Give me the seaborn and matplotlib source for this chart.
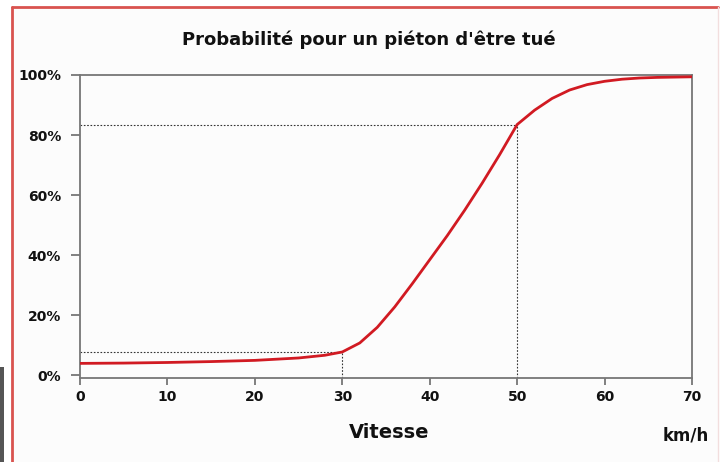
"""Pedestrian fatality probability vs impact speed."""

import matplotlib
matplotlib.use("Agg")
import matplotlib.pyplot as plt
import numpy as np
import pandas as pd
import seaborn as sns
from matplotlib.patches import Rectangle

# values
speed_kmh = [0, 5, 10, 15, 20, 25, 28, 30, 32, 34, 36, 38, 40, 42, 44, 46, 48, 50,
             52, 54, 56, 58, 60, 62, 64, 66, 68, 70]
prob_pct = [4.0, 4.1, 4.3, 4.6, 5.0, 5.8, 6.7, 7.8, 10.8, 16.0, 22.8, 30.5, 38.5, 46.5,
            55.0, 64.0, 73.5, 83.5, 88.3, 92.2, 95.0, 96.8, 97.9, 98.6, 99.0, 99.2, 99.3, 99.4]
marked_speeds = [30, 50]
x_ticks = [0, 10, 20, 30, 40, 50, 60, 70]
y_ticks = [0, 20, 40, 60, 80, 100]
y_labels = ["0%", "20%", "40%", "60%", "80%", "100%"]

TITLE = "Probabilité pour un piéton d'être tué"
XLABEL = "Vitesse"
UNIT = "km/h"

sns.set_theme(style="white")
plt.rcParams["font.family"] = ["DejaVu Sans"]

df = pd.DataFrame({"speed": speed_kmh, "prob": prob_pct})

W, H = 722, 462
fig = plt.figure(figsize=(W / 100, H / 100), dpi=100)
fig.patch.set_facecolor("white")

# light panel with red frame, like the source slide
fig.patches.append(Rectangle((12 / W, 0), (718 - 12) / W, (H - 7) / H, transform=fig.transFigure,
                             facecolor="#fcfcfc", edgecolor="none", zorder=-5))
fig.add_artist(plt.Line2D([12 / W, 12 / W], [0, (H - 7) / H], transform=fig.transFigure, color="#d9534f", lw=2, zorder=-4))
fig.add_artist(plt.Line2D([12 / W, 718 / W], [(H - 7) / H, (H - 7) / H], transform=fig.transFigure, color="#d9534f", lw=2, zorder=-4))
fig.add_artist(plt.Line2D([718 / W, 718 / W], [0, (H - 7) / H], transform=fig.transFigure, color="#f2dede", lw=1, zorder=-4))
fig.patches.append(Rectangle((0, 0), 4 / W, (H - 367) / H, transform=fig.transFigure,
                             facecolor="#555555", edgecolor="none", zorder=-4))

ax = fig.add_axes([80 / W, (H - 377.5) / H, 612 / W, 302.5 / H])
ax.set_facecolor("#fcfcfc")

sns.lineplot(data=df, x="speed", y="prob", color="#d11a22", lw=2.0, ax=ax, zorder=3)

# dotted guides at 30 and 50 km/h
for s in marked_speeds:
    p = prob_pct[speed_kmh.index(s)]
    ax.plot([0, s], [p, p], ls=(0, (1.5, 1.5)), color="#333333", lw=0.8, zorder=2)
    ax.plot([s, s], [-0.7, p], ls=(0, (1.5, 1.5)), color="#333333", lw=0.8, zorder=2)

ax.set_xlim(0, 70)
ax.set_ylim(-0.7, 100)
ax.set_xticks(x_ticks)
ax.set_xticklabels([str(t) for t in x_ticks], fontsize=10, fontweight="bold")
ax.set_yticks(y_ticks)
ax.set_yticklabels(y_labels, fontsize=10, fontweight="bold")
ax.tick_params(axis="x", bottom=True, direction="out", length=5, width=1.3, color="#777777", pad=4, labelcolor="#111111")
ax.tick_params(axis="y", left=True, direction="out", length=6.5, width=1.3, color="#777777", pad=7, labelcolor="#111111")
for side in ["left", "right", "top", "bottom"]:
    ax.spines[side].set_visible(True)
    ax.spines[side].set_color("#777777")
    ax.spines[side].set_linewidth(1.3)
ax.set_xlabel("")
ax.set_ylabel("")

fig.text(369 / W, 1 - 40 / H, TITLE, ha="center", va="center", fontsize=13, fontweight="bold", color="#111111")
fig.text(389 / W, 1 - 432 / H, XLABEL, ha="center", va="center", fontsize=14, fontweight="bold", color="#111111")
fig.text(686 / W, 1 - 435 / H, UNIT, ha="center", va="center", fontsize=12, fontweight="bold", color="#111111")

fig.savefig("out.png", dpi=100, facecolor=fig.get_facecolor())
plt.close(fig)
